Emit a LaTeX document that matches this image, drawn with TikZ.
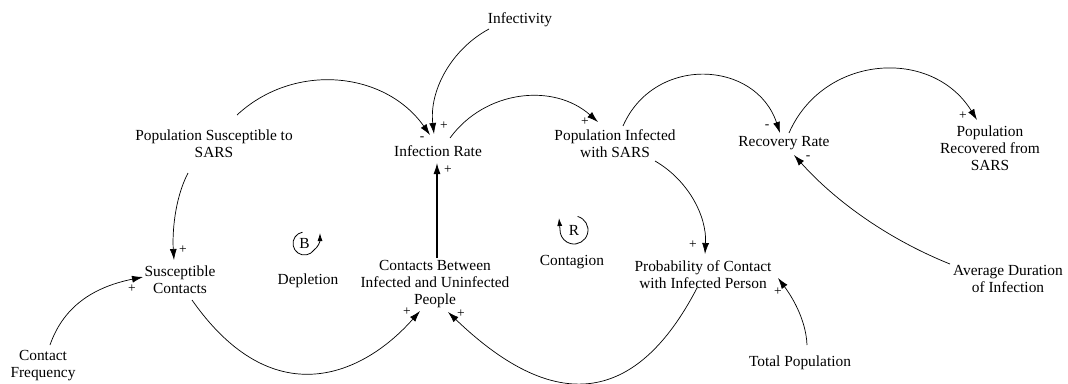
\documentclass[tikz,border=0pt]{standalone}
\usepackage{fontspec}
\setmainfont{Liberation Serif}
\usetikzlibrary{arrows.meta}
\tikzset{
  lbl/.style={font=\fontsize{15.4}{17}\selectfont, align=center, inner sep=0pt},
  link/.style={-{Latex[length=11pt,width=7pt]}, line width=0.7pt},
  pol/.style={font=\fontsize{13.5}{13.5}\selectfont, inner sep=0pt},
  loopline/.style={line width=0.8pt}
}
\begin{document}
\begin{tikzpicture}[x=1pt,y=-1pt]
\useasboundingbox[fill=white] (0,0) rectangle (1068,383);
% nodes
\node[lbl] (inf) at (520,20) {Infectivity};
\node[lbl] (ps)  at (214,144) {Population Susceptible to\\SARS};
\node[lbl] (ir)  at (438,151) {Infection Rate};
\node[lbl] (pi)  at (615,144) {Population Infected\\with SARS};
\node[lbl] (rr)  at (784,143) {Recovery Rate};
\node[lbl] (pr)  at (990,148) {Population\\Recovered from\\SARS};
\node[lbl] (sc)  at (180,280) {Susceptible\\Contacts};
\node[lbl] (cb)  at (435,284) {Contacts Between\\Infected and Uninfected\\People};
\node[lbl] (pc)  at (703,275) {Probability of Contact\\with Infected Person};
\node[lbl] (adi) at (1008,279) {Average Duration\\of Infection};
\node[lbl] (tp)  at (800,363) {Total Population};
\node[lbl] (cf)  at (43,366) {Contact\\Frequency};
\node[lbl] (dep) at (308,281) {Depletion};
\node[lbl] (con) at (572,262) {Contagion};
\node[lbl] (B) at (304.5,243.5) {B};
\node[lbl] (R) at (574,230) {R};
% loop markers
\draw[loopline,-{Latex[length=8pt,width=5pt]}] (B.center) ++(100:11.5pt) arc[start angle=100, end angle=325, radius=11.5pt] .. controls (318,247) and (320,242) .. (320,233);
\draw[loopline,-{Latex[length=8pt,width=5pt]}] (R.center) ++(75:14pt) arc[start angle=75, end angle=-168, radius=14pt] -- (559,218);
% links
\draw[link] ([shift={(23,-29)}]ps.center) .. controls (294,62) and (385,71) .. ([shift={(-8,-16)}]ir.center);
\draw[link] ([shift={(-31,9)}]inf.center) .. controls (451,49.5) and (429,91) .. ([shift={(-4,-17)}]ir.center);
\draw[link] ([shift={(12,-13)}]ir.center) .. controls (485,90) and (553.6,82.6) .. ([shift={(-17,-22)}]pi.center);
\draw[link] ([shift={(8,-18)}]pi.center) .. controls (654,55) and (755.6,59.7) .. ([shift={(-4,-10)}]rr.center);
\draw[link] ([shift={(5,-10)}]rr.center) .. controls (823.3,54.4) and (932,46.9) .. ([shift={(-13,-28)}]pr.center);
\draw[link] ([shift={(-58,-15)}]adi.center) .. controls (890.5,240.2) and (836.8,202.8) .. ([shift={(10,12)}]rr.center);
\draw[link] ([shift={(40,17)}]pi.center) .. controls (688,180) and (707,216) .. ([shift={(2,-21)}]pc.center);
\draw[link] ([shift={(-6,13)}]pc.center) .. controls (618,440) and (520,381) .. ([shift={(13,28)}]cb.center);
\draw[link] ([shift={(7,-18)}]tp.center) .. controls (806,318) and (790,294) .. ([shift={(75,3)}]pc.center);
\draw[link] ([shift={(12,20)}]sc.center) .. controls (273,415.6) and (363,375.6) .. ([shift={(-15,27)}]cb.center);
\draw[link] ([shift={(-26,29)}]ps.center) .. controls (174,200) and (172.3,235) .. ([shift={(-6,-20)}]sc.center);
\draw[link] ([shift={(7,-21)}]cf.center) .. controls (64.8,302.5) and (98.9,286) .. ([shift={(-37,-3)}]sc.center);
\draw[link, line width=1.1pt] ([shift={(2,-26)}]cb.center) -- ([shift={(-1,12)}]ir.center);
% polarities
\node[pol] (p1) at (422,139) {-};
\node[pol] (p2) at (444,126) {+};
\node[pol] (p3) at (448,170) {+};
\node[pol] (p4) at (585,122) {+};
\node[pol] (p5) at (767,127) {-};
\node[pol] (p6) at (963,116) {+};
\node[pol] (p7) at (808,158) {-};
\node[pol] (p8) at (693,245) {+};
\node[pol] (p9) at (778,292) {+};
\node[pol] (p10) at (407,312) {+};
\node[pol] (p11) at (461,314) {+};
\node[pol] (p12) at (183,250) {+};
\node[pol] (p13) at (132,289) {+};
\end{tikzpicture}
\end{document}
